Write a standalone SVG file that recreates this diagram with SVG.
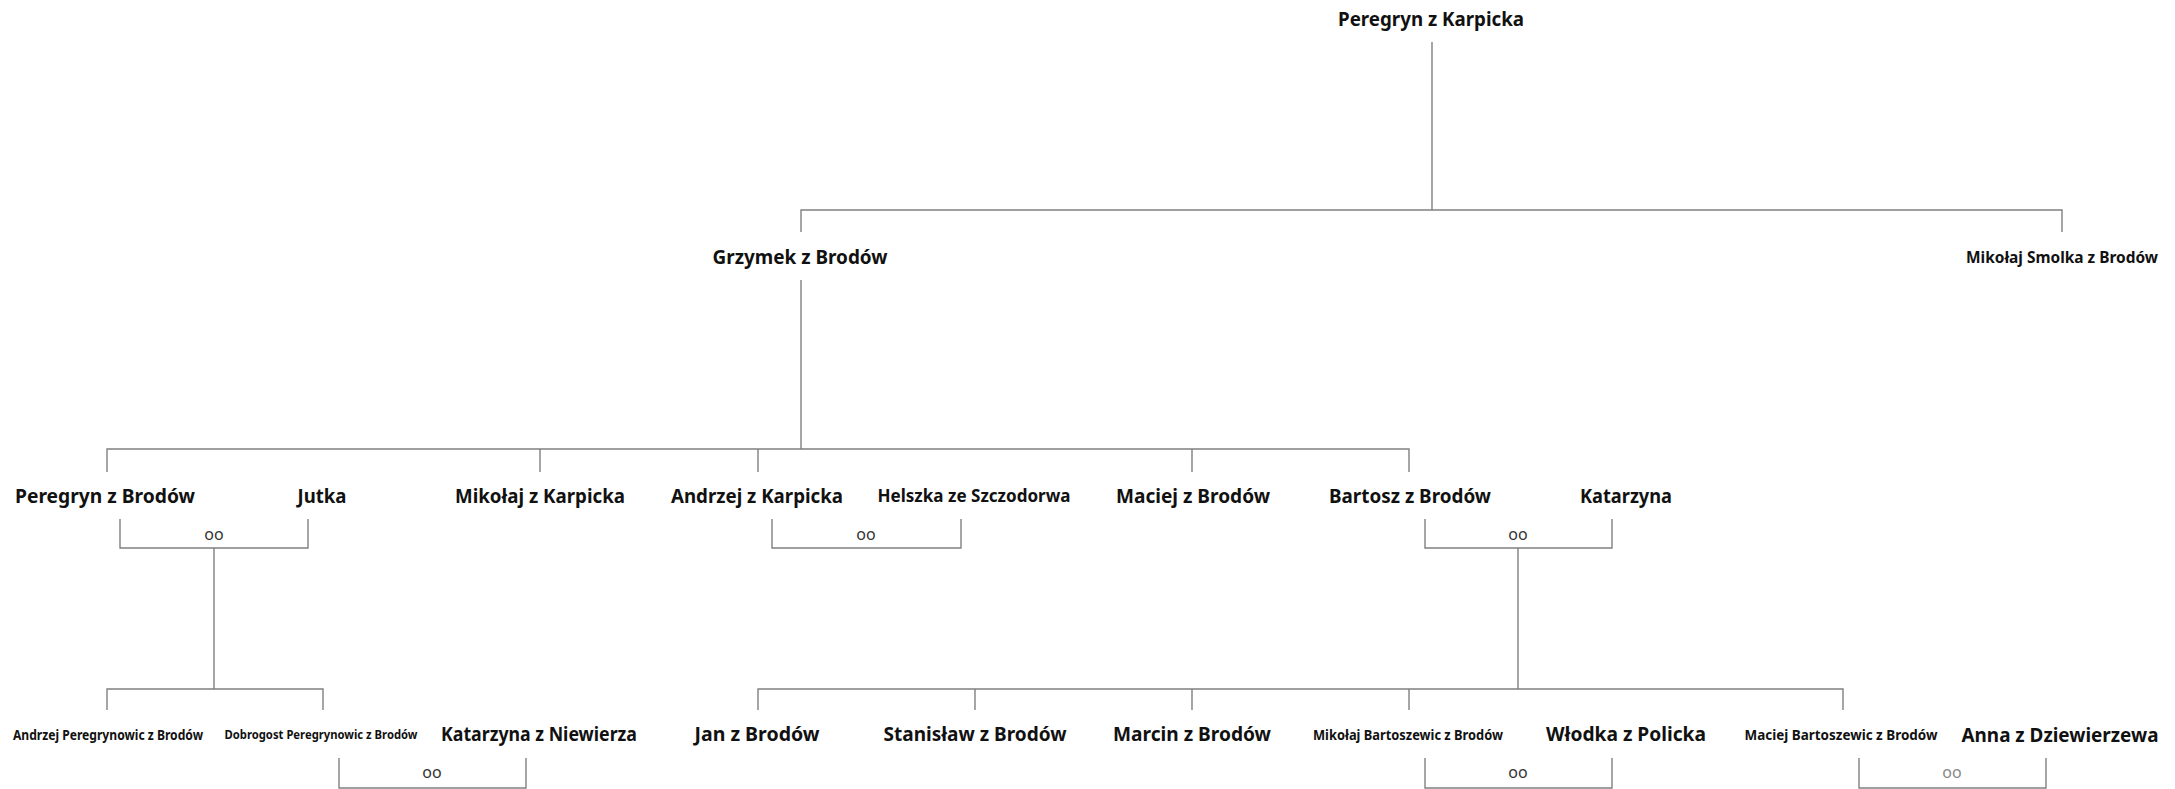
<svg xmlns="http://www.w3.org/2000/svg" width="2175" height="789" viewBox="0 0 2175 789">
<style>
.n{font-family:"Noto Sans","Open Sans","Liberation Sans",sans-serif;font-weight:bold;fill:#111;text-anchor:middle;font-size:19px}
.s{font-size:14px}
.m{font-size:16px}
.h{font-size:17px}
.oo{font-family:"Noto Sans","Open Sans","Liberation Sans",sans-serif;font-size:16px;fill:#333;text-anchor:middle}
.c path{fill:none;stroke:#808080;stroke-width:1.4}
</style>
<rect width="2175" height="789" fill="#fff"/>
<g id="connectors" class="c">
<path d="M1432 42V210M801 232V210H2062V232"/>
<path d="M801 280V449M107 472V449H1409V472M540 449V472M758 449V472M1192 449V472"/>
<path d="M120 519V548H308V519M214 548V689M107 710V689H323V710"/>
<path d="M772 519V548H961V519"/>
<path d="M1425 519V548H1612V519M1518 548V689M758 710V689H1843V710M975 689V710M1192 689V710M1409 689V710"/>
<path d="M339 758V788H526V758"/>
<path d="M1425 758V788H1612V758"/>
<path d="M1859 758V788H2046V758"/>
</g>
<g id="n-peregryn-karpicka"><text class="n" x="1431" y="26" textLength="186" lengthAdjust="spacingAndGlyphs">Peregryn z Karpicka</text></g>
<g id="n-grzymek"><text class="n" x="800" y="264" textLength="175" lengthAdjust="spacingAndGlyphs">Grzymek z Brodów</text></g>
<g id="n-mikolaj-smolka"><text class="n m" x="2062" y="263" textLength="192" lengthAdjust="spacingAndGlyphs">Mikołaj Smolka z Brodów</text></g>
<g id="n-peregryn-brodow"><text class="n" x="105" y="503" textLength="180" lengthAdjust="spacingAndGlyphs">Peregryn z Brodów</text></g>
<g id="n-jutka"><text class="n" x="322" y="503" textLength="49" lengthAdjust="spacingAndGlyphs">Jutka</text></g>
<g id="n-mikolaj-karpicka"><text class="n" x="540" y="503" textLength="170" lengthAdjust="spacingAndGlyphs">Mikołaj z Karpicka</text></g>
<g id="n-andrzej-karpicka"><text class="n" x="757" y="503" textLength="172" lengthAdjust="spacingAndGlyphs">Andrzej z Karpicka</text></g>
<g id="n-helszka"><text class="n h" x="974" y="502" textLength="193" lengthAdjust="spacingAndGlyphs">Helszka ze Szczodorwa</text></g>
<g id="n-maciej-brodow"><text class="n" x="1193" y="503" textLength="154" lengthAdjust="spacingAndGlyphs">Maciej z Brodów</text></g>
<g id="n-bartosz"><text class="n" x="1410" y="503" textLength="162" lengthAdjust="spacingAndGlyphs">Bartosz z Brodów</text></g>
<g id="n-katarzyna"><text class="n" x="1626" y="503" textLength="92" lengthAdjust="spacingAndGlyphs">Katarzyna</text></g>
<g id="m-1"><text class="oo" x="214" y="540">oo</text></g>
<g id="m-2"><text class="oo" x="866" y="540">oo</text></g>
<g id="m-3"><text class="oo" x="1518" y="540">oo</text></g>
<g id="n-andrzej-peregrynowic"><text class="n s" x="108" y="740" textLength="190" lengthAdjust="spacingAndGlyphs">Andrzej Peregrynowic z Brodów</text></g>
<g id="n-dobrogost"><text class="n s" x="321" y="739" textLength="193" lengthAdjust="spacingAndGlyphs" style="font-size:13px">Dobrogost Peregrynowic z Brodów</text></g>
<g id="n-katarzyna-niewierza"><text class="n" x="539" y="741" textLength="196" lengthAdjust="spacingAndGlyphs">Katarzyna z Niewierza</text></g>
<g id="n-jan"><text class="n" x="757" y="741" textLength="125" lengthAdjust="spacingAndGlyphs">Jan z Brodów</text></g>
<g id="n-stanislaw"><text class="n" x="975" y="741" textLength="183" lengthAdjust="spacingAndGlyphs">Stanisław z Brodów</text></g>
<g id="n-marcin"><text class="n" x="1192" y="741" textLength="158" lengthAdjust="spacingAndGlyphs">Marcin z Brodów</text></g>
<g id="n-mikolaj-bartoszewic"><text class="n s" x="1408" y="740" textLength="190" lengthAdjust="spacingAndGlyphs">Mikołaj Bartoszewic z Brodów</text></g>
<g id="n-wlodka"><text class="n" x="1626" y="741" textLength="160" lengthAdjust="spacingAndGlyphs">Włodka z Policka</text></g>
<g id="n-maciej-bartoszewic"><text class="n s" x="1841" y="740" textLength="193" lengthAdjust="spacingAndGlyphs">Maciej Bartoszewic z Brodów</text></g>
<g id="n-anna"><text class="n" x="2060" y="742" textLength="197" lengthAdjust="spacingAndGlyphs">Anna z Dziewierzewa</text></g>
<g id="m-4"><text class="oo" x="432" y="778">oo</text></g>
<g id="m-5"><text class="oo" x="1518" y="778">oo</text></g>
<g id="m-6"><text class="oo" x="1952" y="778" style="fill:#888">oo</text></g>
</svg>
